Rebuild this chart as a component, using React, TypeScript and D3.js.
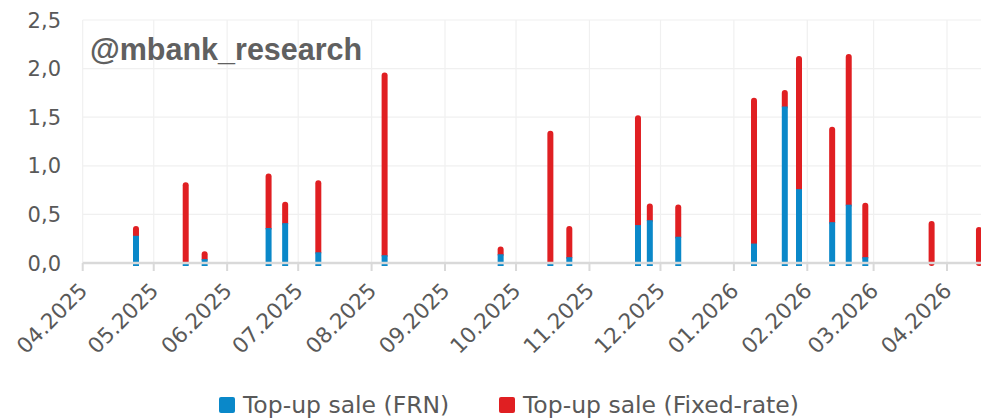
import React, { Component } from "react";
import * as d3 from "d3";

// top-up sale dates and amounts (PLN bn)
const saleDates = [
  "2025-04-23", "2025-05-14", "2025-05-22", "2025-06-18", "2025-06-25",
  "2025-07-09", "2025-08-06", "2025-09-24", "2025-10-15", "2025-10-23",
  "2025-11-21", "2025-11-26", "2025-12-08", "2026-01-09", "2026-01-22",
  "2026-01-28", "2026-02-11", "2026-02-18", "2026-02-25", "2026-03-25",
  "2026-04-14",
];
const frnValues: (number | null)[] = [
  0.28, 0.0, 0.04, 0.36, 0.41,
  0.11, 0.08, 0.09, 0.0, 0.06,
  0.39, 0.44, 0.27, 0.2, 1.61,
  0.76, 0.42, 0.6, 0.06, null,
  null,
];
const fixedValues = [
  0.07, 0.8, 0.05, 0.53, 0.19,
  0.71, 1.85, 0.05, 1.33, 0.29,
  1.1, 0.14, 0.3, 1.47, 0.14,
  1.34, 0.95, 1.52, 0.53, 0.4,
  0.34,
];
const yTicks = [0, 0.5, 1, 1.5, 2, 2.5];
const seriesNames = ["Top-up sale (FRN)", "Top-up sale (Fixed-rate)"];
const seriesColors = ["#0a88c9", "#e01f22"];

class App extends Component {
  chartRef = React.createRef<SVGSVGElement>();

  componentDidMount() {
    this.renderChart();
  }

  renderChart() {
    const W = 981;
    const parse = d3.timeParse("%Y-%m-%d");
    const dates = saleDates.map((d) => parse(d) as Date);

    const svg = d3.select(this.chartRef.current);
    svg.selectAll("*").remove();

    const x = d3
      .scaleTime()
      .domain([new Date(2025, 3, 1), new Date(2026, 3, 1)])
      .range([82.7, 947]);
    const y = d3.scaleLinear().domain([0, 2.5]).range([263, 20]);
    const x0 = x.range()[0];

    const months = d3.timeMonth.range(new Date(2025, 3, 1), new Date(2026, 3, 2));
    const fmt = d3.timeFormat("%m.%Y");
    const fmtY = (v: number) => d3.format(".1f")(v).replace(".", ",");

    // gridlines
    svg
      .append("g")
      .selectAll("line")
      .data(yTicks.slice(1))
      .join("line")
      .attr("x1", x0)
      .attr("x2", W)
      .attr("y1", (d) => y(d))
      .attr("y2", (d) => y(d))
      .attr("stroke", "#f0f0f0")
      .attr("stroke-width", 1.2);
    svg
      .append("g")
      .selectAll("line")
      .data(months)
      .join("line")
      .attr("x1", (d) => x(d))
      .attr("x2", (d) => x(d))
      .attr("y1", y(2.5))
      .attr("y2", y(0))
      .attr("stroke", "#f0f0f0")
      .attr("stroke-width", 1.2);

    // watermark
    svg
      .append("text")
      .attr("x", 90)
      .attr("y", 60)
      .attr("font-family", "Liberation Sans, Arial, sans-serif")
      .attr("font-weight", "bold")
      .attr("font-size", 30.5)
      .attr("fill", "#606060")
      .text("@mbank_research");

    const half = 12 * 3600 * 1000;
    const cx = (i: number) => x(new Date(dates[i].getTime() + half));
    const idx = d3.range(dates.length);

    // fixed-rate segments (stacked on FRN)
    svg
      .append("g")
      .selectAll("line")
      .data(idx)
      .join("line")
      .attr("x1", (i) => cx(i))
      .attr("x2", (i) => cx(i))
      .attr("y1", (i) => y(frnValues[i] ?? 0))
      .attr("y2", (i) => y((frnValues[i] ?? 0) + fixedValues[i]))
      .attr("stroke", seriesColors[1])
      .attr("stroke-width", 6)
      .attr("stroke-linecap", "round");

    // FRN segments
    svg
      .append("g")
      .selectAll("line")
      .data(idx.filter((i) => frnValues[i] !== null))
      .join("line")
      .attr("x1", (i) => cx(i))
      .attr("x2", (i) => cx(i))
      .attr("y1", y(0) + 3)
      .attr("y2", (i) => y(frnValues[i] as number))
      .attr("stroke", seriesColors[0])
      .attr("stroke-width", 6);

    // x axis line + ticks
    svg
      .append("line")
      .attr("x1", x0)
      .attr("x2", W)
      .attr("y1", y(0))
      .attr("y2", y(0))
      .attr("stroke", "#d9d9d9")
      .attr("stroke-width", 2.5);
    svg
      .append("g")
      .selectAll("line")
      .data(months)
      .join("line")
      .attr("x1", (d) => x(d))
      .attr("x2", (d) => x(d))
      .attr("y1", y(0))
      .attr("y2", y(0) + 8)
      .attr("stroke", "#d9d9d9")
      .attr("stroke-width", 2);

    // x tick labels
    svg
      .append("g")
      .selectAll("text")
      .data(months)
      .join("text")
      .attr("transform", (d) => `translate(${x(d) + 6},292) rotate(-45)`)
      .attr("text-anchor", "end")
      .attr("font-family", "DejaVu Sans, sans-serif")
      .attr("font-size", 21.5)
      .attr("fill", "#595959")
      .text((d) => fmt(d));

    // y tick labels
    svg
      .append("g")
      .selectAll("text")
      .data(yTicks)
      .join("text")
      .attr("x", 61)
      .attr("y", (d) => y(d) + 7.5)
      .attr("text-anchor", "end")
      .attr("font-family", "DejaVu Sans, sans-serif")
      .attr("font-size", 21)
      .attr("fill", "#595959")
      .text((d) => fmtY(d));

    // legend
    const legendX = [219, 499];
    const leg = svg
      .append("g")
      .selectAll("g")
      .data(seriesNames)
      .join("g")
      .attr("transform", (_, i) => `translate(${legendX[i]},397)`);
    leg
      .append("rect")
      .attr("width", 16)
      .attr("height", 16)
      .attr("rx", 2)
      .attr("fill", (_, i) => seriesColors[i]);
    leg
      .append("text")
      .attr("x", 24)
      .attr("y", 16)
      .attr("font-family", "DejaVu Sans, sans-serif")
      .attr("font-size", 23.5)
      .attr("fill", "#595959")
      .text((d) => d);
  }

  render() {
    return (
      <svg
        ref={this.chartRef}
        width={981}
        height={419}
        style={{ position: "absolute", left: 0, top: 0, background: "#fff" }}
      />
    );
  }
}

export default App;
